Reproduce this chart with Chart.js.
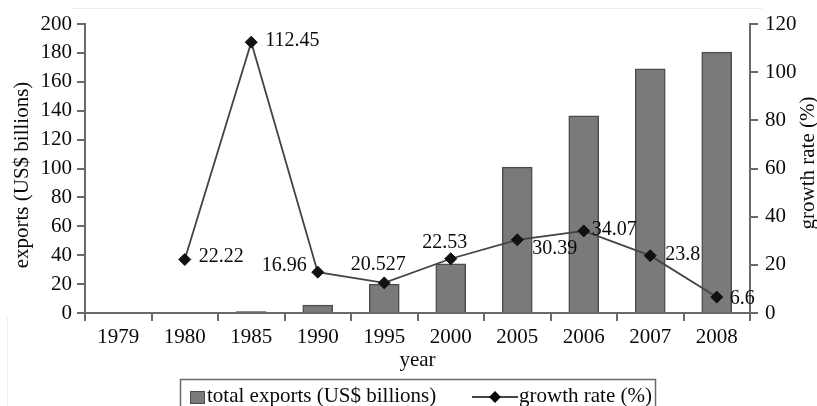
<!DOCTYPE html>
<html>
<head>
<meta charset="utf-8">
<script src="https://cdn.jsdelivr.net/npm/chart.js@4.4.0/dist/chart.umd.min.js"></script>
<style>
  html, body { margin: 0; padding: 0; background: #fff; }
  #wrap { width: 817px; height: 406px; position: relative; }
</style>
</head>
<body>
<div id="wrap"><canvas id="chart"></canvas></div>
<script>
// Data
const years = ["1979", "1980", "1985", "1990", "1995", "2000", "2005", "2006", "2007", "2008"];
const exportsTotal = [null, null, 1, 5.5, 20, 34, 101, 136.5, 169, 180.5];
const growthRate = [null, 22.22, 112.45, 16.96, 12.5, 22.53, 30.39, 34.07, 23.8, 6.6];
const growthLabels = ["", "22.22", "112.45", "16.96", "20.527", "22.53", "30.39", "34.07", "23.8", "6.6"];
const exportTicks = [0, 20, 40, 60, 80, 100, 120, 140, 160, 180, 200];
const growthTicks = [0, 20, 40, 60, 80, 100, 120];

// where each point label sits relative to its marker: [align, dx, dy]
const labelPlacement = [
  null, ["left", 14, -3], ["left", 14, -1], ["right", -11, -6], ["center", -6, -18],
  ["center", -6, -16], ["left", 15, 9], ["left", 8, -1], ["left", 15, -1], ["left", 13, 2]
];

const SERIF = '"Liberation Serif", "Times New Roman", serif';
const barFill = "#7a7a7a";
const barEdge = "#4d4d4d";
const axisGray = "#6a6a6a";
const ink = "#0a0a0a";

function diamond(ctx, x, y, r) {
  ctx.beginPath();
  ctx.moveTo(x, y - r);
  ctx.lineTo(x + r, y);
  ctx.lineTo(x, y + r);
  ctx.lineTo(x - r, y);
  ctx.closePath();
  ctx.fill();
}

function sideTitle(ctx, text, x, y) {
  ctx.save();
  ctx.translate(x, y);
  ctx.rotate(-Math.PI / 2);
  ctx.fillText(text, 0, 0);
  ctx.restore();
}

const extras = {
  id: "extras",
  afterDatasetsDraw(chart) {
    const ctx = chart.ctx;
    const meta = chart.getDatasetMeta(1);
    ctx.save();
    ctx.font = "20px " + SERIF;
    ctx.fillStyle = ink;
    ctx.textBaseline = "middle";
    meta.data.forEach((pt, i) => {
      const p = labelPlacement[i];
      if (!p || !growthLabels[i]) return;
      ctx.textAlign = p[0];
      ctx.fillText(growthLabels[i], pt.x + p[1], pt.y + p[2]);
    });
    ctx.restore();
  },
  afterDraw(chart) {
    const ctx = chart.ctx;
    const ds = chart.data.datasets;
    ctx.save();

    // faint frame of the original figure
    ctx.strokeStyle = "#ececec";
    ctx.lineWidth = 1;
    ctx.beginPath();
    ctx.moveTo(72, 8.5); ctx.lineTo(762, 8.5);
    ctx.moveTo(7.5, 318); ctx.lineTo(7.5, 406);
    ctx.stroke();

    // axis titles, both reading bottom to top
    ctx.fillStyle = ink;
    ctx.font = "21px " + SERIF;
    ctx.textAlign = "center";
    ctx.textBaseline = "middle";
    sideTitle(ctx, "exports (US$ billions)", 22, 175);
    sideTitle(ctx, "growth rate (%)", 808, 163);

    // legend box
    ctx.strokeStyle = axisGray;
    ctx.lineWidth = 1.5;
    ctx.strokeRect(180.5, 379.5, 475, 40);

    ctx.fillStyle = barFill;
    ctx.fillRect(190, 391, 15, 13);
    ctx.strokeStyle = barEdge;
    ctx.lineWidth = 1;
    ctx.strokeRect(190.5, 391.5, 14, 12);

    ctx.fillStyle = ink;
    ctx.textAlign = "left";
    ctx.fillText(ds[0].label, 207, 396);

    ctx.strokeStyle = "#444";
    ctx.lineWidth = 1.8;
    ctx.beginPath();
    ctx.moveTo(472, 397); ctx.lineTo(518, 397);
    ctx.stroke();
    diamond(ctx, 495, 397, 6);
    ctx.fillText(ds[1].label, 519, 396);

    ctx.restore();
  }
};

const tickFont = { family: SERIF, size: 21 };

new Chart(document.getElementById("chart"), {
  type: "bar",
  data: {
    labels: years,
    datasets: [
      {
        label: "total exports (US$ billions)",
        data: exportsTotal,
        backgroundColor: barFill,
        borderColor: barEdge,
        borderWidth: 1.5,
        barThickness: 30,
        yAxisID: "y",
        order: 1
      },
      {
        type: "line",
        label: "growth rate (%)",
        data: growthRate,
        borderColor: "#444",
        borderWidth: 1.8,
        pointStyle: "rectRot",
        pointRadius: 6,
        pointBackgroundColor: "#111",
        pointBorderColor: "#111",
        pointBorderWidth: 1,
        tension: 0,
        yAxisID: "y1",
        order: 0
      }
    ]
  },
  options: {
    responsive: true,
    maintainAspectRatio: false,
    animation: false,
    layout: { padding: { top: 24, left: 0, right: 0, bottom: 0 } },
    plugins: {
      legend: { display: false },
      tooltip: { enabled: false }
    },
    scales: {
      x: {
        afterFit: s => { s.height = 93; },
        grid: { display: true, drawOnChartArea: false, drawTicks: true, tickLength: 8, color: axisGray, lineWidth: 2, offset: true },
        border: { display: true, color: axisGray, width: 2 },
        ticks: { font: tickFont, color: ink, padding: 4, maxRotation: 0 },
        title: { display: true, text: "year", font: { family: SERIF, size: 21 }, color: ink, padding: { top: 0, bottom: 33 } }
      },
      y: {
        position: "left",
        min: exportTicks[0],
        max: exportTicks[exportTicks.length - 1],
        afterFit: s => { s.width = 85; },
        ticks: { stepSize: exportTicks[1] - exportTicks[0], font: tickFont, color: ink, padding: 5 },
        grid: { drawOnChartArea: false, drawTicks: true, tickLength: 8, color: axisGray, lineWidth: 2 },
        border: { display: true, color: axisGray, width: 2 },
        title: { display: false }
      },
      y1: {
        position: "right",
        min: growthTicks[0],
        max: growthTicks[growthTicks.length - 1],
        afterFit: s => { s.width = 67; },
        ticks: { stepSize: growthTicks[1] - growthTicks[0], font: tickFont, color: ink, padding: 7 },
        grid: { drawOnChartArea: false, drawTicks: true, tickLength: 8, color: axisGray, lineWidth: 2 },
        border: { display: true, color: axisGray, width: 2 },
        title: { display: false }
      }
    }
  },
  plugins: [extras]
});
</script>
</body>
</html>
